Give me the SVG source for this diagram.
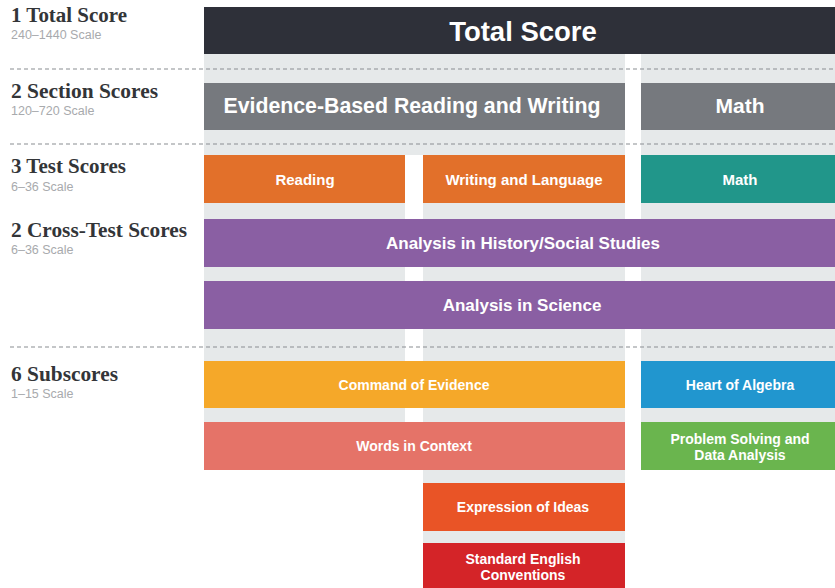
<svg xmlns="http://www.w3.org/2000/svg" width="835" height="588" viewBox="0 0 835 588">
<style>
.lbl{font-family:"Liberation Serif","Times New Roman",serif;font-weight:bold;font-size:20.5px;fill:#333538}
.sc{font-family:"Liberation Sans",Arial,sans-serif;font-size:12.5px;fill:#a8aaad}
.t{font-family:"Liberation Sans",Arial,sans-serif;font-weight:bold;fill:#ffffff;text-anchor:middle}
.bg{fill:#e6e9ea}
.dash{stroke:#8a8d91;stroke-width:1.2;stroke-dasharray:4 3;fill:none}
</style>
<rect width="835" height="588" fill="#ffffff"/>
<g id="background">
<rect class="bg" x="204" y="54" width="421" height="101"/>
<rect class="bg" x="641" y="54" width="194" height="416"/>
<rect class="bg" x="204" y="155" width="201" height="315"/>
<rect class="bg" x="423" y="155" width="202" height="433"/>
</g>
<g id="connectors">
<line class="dash" x1="10" y1="69" x2="835" y2="69"/>
<line class="dash" x1="10" y1="144" x2="835" y2="144"/>
<line class="dash" x1="10" y1="347" x2="835" y2="347"/>
</g>
<g id="labels">
<text class="lbl" x="11" y="22" textLength="116" lengthAdjust="spacingAndGlyphs">1 Total Score</text>
<text class="sc" x="11" y="39">240–1440 Scale</text>
<text class="lbl" x="11" y="98" textLength="147" lengthAdjust="spacingAndGlyphs">2 Section Scores</text>
<text class="sc" x="11" y="115">120–720 Scale</text>
<text class="lbl" x="11" y="173" textLength="115" lengthAdjust="spacingAndGlyphs">3 Test Scores</text>
<text class="sc" x="11" y="191">6–36 Scale</text>
<text class="lbl" x="11" y="237" textLength="176" lengthAdjust="spacingAndGlyphs">2 Cross-Test Scores</text>
<text class="sc" x="11" y="254">6–36 Scale</text>
<text class="lbl" x="11" y="381" textLength="107" lengthAdjust="spacingAndGlyphs">6 Subscores</text>
<text class="sc" x="11" y="398">1–15 Scale</text>
</g>
<g id="total-score">
<rect x="204" y="7" width="631" height="47" fill="#2e3039"/>
<text class="t" x="523" y="41" font-size="27.5">Total Score</text>
</g>
<g id="ebrw">
<rect x="204" y="83" width="421" height="47" fill="#76797e"/>
<text class="t" x="412" y="113" font-size="21.3">Evidence-Based Reading and Writing</text>
</g>
<g id="math-section">
<rect x="641" y="83" width="194" height="47" fill="#76797e"/>
<text class="t" x="740" y="113" font-size="21">Math</text>
</g>
<g id="reading">
<rect x="204" y="155" width="201" height="48" fill="#e2702a"/>
<text class="t" x="305" y="185" font-size="15">Reading</text>
</g>
<g id="writing">
<rect x="423" y="155" width="202" height="48" fill="#e2702a"/>
<text class="t" x="524" y="185" font-size="15">Writing and Language</text>
</g>
<g id="math-test">
<rect x="641" y="155" width="194" height="48" fill="#21968a"/>
<text class="t" x="740" y="185" font-size="15">Math</text>
</g>
<g id="history">
<rect x="204" y="219" width="631" height="48" fill="#8a5fa3"/>
<text class="t" x="523" y="249" font-size="17">Analysis in History/Social Studies</text>
</g>
<g id="science">
<rect x="204" y="281" width="631" height="48" fill="#8a5fa3"/>
<text class="t" x="522" y="311" font-size="17">Analysis in Science</text>
</g>
<g id="command-of-evidence">
<rect x="204" y="361" width="421" height="47" fill="#f5a829"/>
<text class="t" x="414" y="390" font-size="14">Command of Evidence</text>
</g>
<g id="heart-of-algebra">
<rect x="641" y="361" width="194" height="47" fill="#2196cf"/>
<text class="t" x="740" y="390" font-size="14">Heart of Algebra</text>
</g>
<g id="words-in-context">
<rect x="204" y="422" width="421" height="48" fill="#e57368"/>
<text class="t" x="414" y="451" font-size="14">Words in Context</text>
</g>
<g id="problem-solving">
<rect x="641" y="422" width="194" height="48" fill="#6ab54e"/>
<text class="t" x="740" y="444" font-size="14">Problem Solving and</text>
<text class="t" x="740" y="460" font-size="14">Data Analysis</text>
</g>
<g id="expression-of-ideas">
<rect x="423" y="483" width="202" height="48" fill="#e95426"/>
<text class="t" x="523" y="512" font-size="14">Expression of Ideas</text>
</g>
<g id="standard-english">
<rect x="423" y="543" width="202" height="45" fill="#d42428"/>
<text class="t" x="523" y="564" font-size="14">Standard English</text>
<text class="t" x="523" y="580" font-size="14">Conventions</text>
</g>
</svg>
